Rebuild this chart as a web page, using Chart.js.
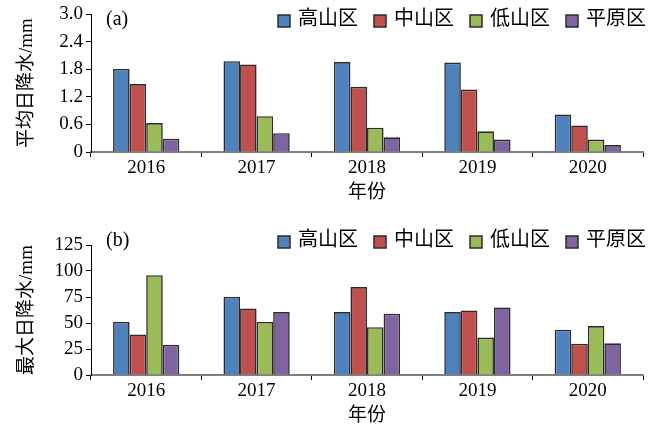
<!DOCTYPE html>
<html lang="zh">
<head>
  <meta charset="UTF-8">
  <title>降水</title>
  <script src="https://cdn.jsdelivr.net/npm/chart.js"></script>
  <style>
    body { margin: 0; background: #fff; }
    canvas { display: block; }
  </style>
</head>
<body>
  <canvas id="chartA" width="662" height="214"></canvas>
  <canvas id="chartB" width="662" height="214"></canvas>

  <script>
    // data
    const years = ['2016', '2017', '2018', '2019', '2020'];
    const regions = ['高山区', '中山区', '低山区', '平原区'];
    const colors = ['#4f81bd', '#c0504d', '#9bbb59', '#8064a2'];

    // (a) average daily precipitation, mm
    const avgHigh  = [1.81, 1.98, 1.96, 1.95, 0.82];
    const avgMid   = [1.48, 1.91, 1.42, 1.36, 0.58];
    const avgLow   = [0.63, 0.78, 0.53, 0.45, 0.27];
    const avgPlain = [0.29, 0.41, 0.32, 0.27, 0.15];
    const avgTicks = [0, 0.6, 1.2, 1.8, 2.4, 3.0];

    // (b) max daily precipitation, mm
    const maxHigh  = [51, 75, 60.5, 60.5, 43.5];
    const maxMid   = [39, 64, 84.5, 62, 30];
    const maxLow   = [96, 51, 46, 36, 47];
    const maxPlain = [29, 60.5, 59, 65, 30.5];
    const maxTicks = [0, 25, 50, 75, 100, 125];

    const serif = '"Liberation Serif", "Times New Roman", "Noto Sans CJK SC", serif';

    // (a)/(b) tag and a legend that sits inside the top of the plot
    const panelTag = {
      id: 'panelTag',
      afterDraw(chart, args, opts) {
        const ctx = chart.ctx, a = chart.chartArea;
        ctx.save();
        ctx.fillStyle = '#000';
        ctx.textBaseline = 'middle';
        ctx.font = '20px ' + serif;
        ctx.fillText(opts.text, a.left + 15, opts.y);

        // legend, laid out right to left
        const box = 12, gap = 8, space = 16;
        let x = opts.right;
        const ds = chart.data.datasets;
        for (let i = ds.length - 1; i >= 0; i--) {
          const w = ctx.measureText(ds[i].label).width;
          x -= w;
          ctx.fillStyle = '#000';
          ctx.fillText(ds[i].label, x, opts.y);
          x -= gap + box;
          ctx.fillStyle = ds[i].backgroundColor;
          ctx.fillRect(x, opts.y - box / 2 + 1, box, box);
          ctx.strokeStyle = '#2b2b2b';
          ctx.lineWidth = 1.5;
          ctx.strokeRect(x, opts.y - box / 2 + 1, box, box);
          x -= space;
        }
        ctx.restore();
      }
    };

    function makeChart(id, series, ticks, yTitle, tag, pad) {
      const fmt = ticks[ticks.length - 1] < 10
        ? v => (v === 0 ? '0' : v.toFixed(1))
        : v => String(v);
      return new Chart(document.getElementById(id), {
        type: 'bar',
        data: {
          labels: years,
          datasets: series.map((d, i) => ({
            label: regions[i],
            data: d,
            backgroundColor: colors[i],
            borderColor: '#2b2b2b',
            borderWidth: 1.6,
            borderSkipped: 'bottom',
            categoryPercentage: 0.6,
            barPercentage: 1.0
          }))
        },
        options: {
          responsive: false,
          animation: false,
          layout: { padding: { left: 16, right: 19, top: pad.top, bottom: pad.bottom } },
          plugins: {
            tooltip: { enabled: false },
            legend: { display: false },
            panelTag: { text: tag, y: pad.ly, right: 646 }
          },
          scales: {
            x: {
              grid: {
                display: true,
                drawOnChartArea: false,
                drawTicks: true,
                tickLength: 5,
                color: '#000',
                offset: true
              },
              border: { display: true, color: '#808080', width: 2 },
              ticks: { color: '#000', padding: 0, font: { family: serif, size: 19 } },
              title: {
                display: true,
                text: '年份',
                color: '#000',
                padding: { top: 0, bottom: 0 },
                font: { family: serif, size: 19 }
              },
              afterFit(s) { s.height = pad.xh; }
            },
            y: {
              min: ticks[0],
              max: ticks[ticks.length - 1],
              afterBuildTicks(s) { s.ticks = ticks.map(v => ({ value: v })); },
              grid: {
                display: true,
                drawOnChartArea: false,
                drawTicks: true,
                tickLength: 5,
                color: '#000'
              },
              border: { display: true, color: '#000', width: 1 },
              ticks: {
                color: '#000',
                padding: 3,
                font: { family: serif, size: 19 },
                callback: fmt
              },
              title: {
                display: true,
                text: yTitle,
                color: '#000',
                padding: { top: 0, bottom: 0 },
                font: { family: serif, size: 19 }
              },
              afterFit(s) { s.width = 75; }
            }
          }
        },
        plugins: [panelTag]
      });
    }

    makeChart('chartA', [avgHigh, avgMid, avgLow, avgPlain], avgTicks,
      '平均日降水/mm', '(a)', { top: 6, bottom: 10, xh: 52, ly: 20 });
    makeChart('chartB', [maxHigh, maxMid, maxLow, maxPlain], maxTicks,
      '最大日降水/mm', '(b)', { top: 31, bottom: 1, xh: 52, ly: 27 });
  </script>
</body>
</html>
